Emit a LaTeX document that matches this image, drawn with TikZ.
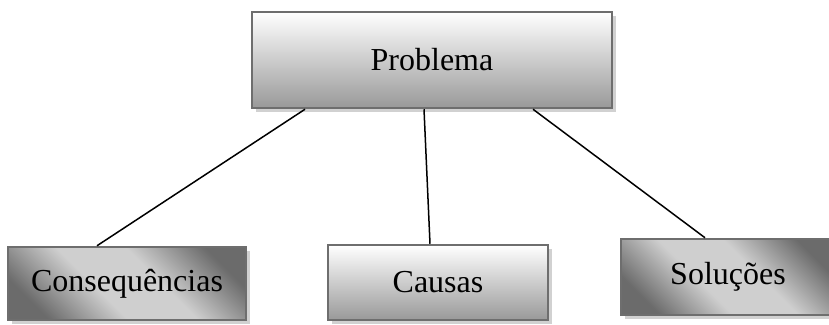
\documentclass[tikz,border=0pt]{standalone}
\usepackage{fontspec}
\setmainfont{Liberation Serif}
\usetikzlibrary{shadows}

% faixa clara na diagonal, cantos escuros
\pgfdeclareverticalshading{faixa}{100bp}{color(0bp)=(black!58); color(24bp)=(black!58);
  color(42bp)=(black!19); color(58bp)=(black!19); color(76bp)=(black!58); color(100bp)=(black!58)}

\tikzset{
  caixa/.style={draw=black!57, line width=2.5pt, inner sep=0pt,
    minimum height=75pt, font=\fontsize{32}{38}\selectfont,
    drop shadow={shadow xshift=4pt, shadow yshift=-4pt, fill=black!18, opacity=1}},
  clara/.style={caixa, top color=white, bottom color=black!40},
  escura/.style={caixa, shading=faixa, shading angle=-45},
  ligacao/.style={line width=1.5pt}
}

\begin{document}
\begin{tikzpicture}[x=1pt, y=-1pt]
  \useasboundingbox (0,0) rectangle (829,324);

  \node[clara, minimum width=360pt, minimum height=96pt] (prob) at (432,60) {Problema};
  \node[escura, minimum width=238pt, minimum height=73pt] (cons) at (127,283.5) {Consequências};
  \node[clara, minimum width=220pt] (caus) at (438,282.5) {Causas};
  \node[escura, minimum width=214pt, minimum height=76pt] (sol) at (728,277) {Soluções};

  % pontas das ligacoes
  \coordinate (pe) at ([xshift=-127pt]prob.south);
  \coordinate (pm) at ([xshift=-8pt]prob.south);
  \coordinate (pd) at ([xshift=101pt]prob.south);
  \coordinate (ce) at ([xshift=-30pt]cons.north);
  \coordinate (cm) at ([xshift=-8pt]caus.north);
  \coordinate (cd) at ([xshift=-23pt]sol.north);

  \foreach \a/\b in {pe/ce, pm/cm, pd/cd} {
    \draw[ligacao] (\a) -- (\b);
  }
\end{tikzpicture}
\end{document}
